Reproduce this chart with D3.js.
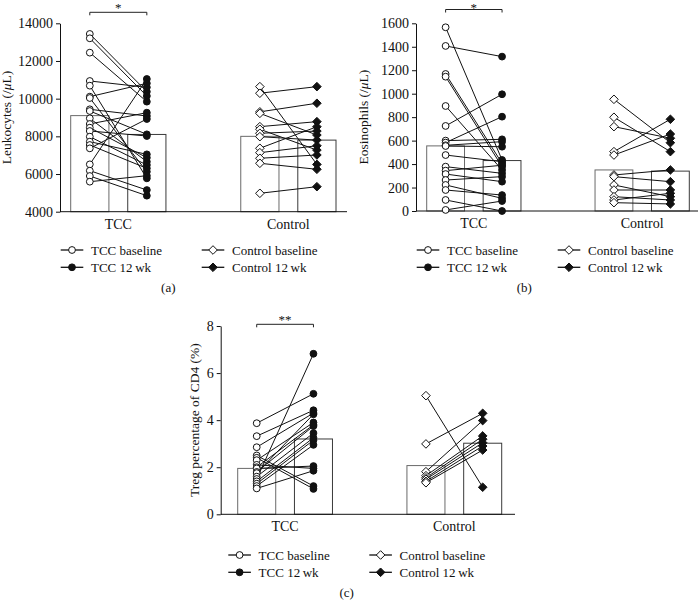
<!DOCTYPE html>
<html><head><meta charset="utf-8">
<script src="https://cdn.jsdelivr.net/npm/d3@7"></script>
<style>
body{margin:0;background:#fff}
svg{display:block}
text{font-family:"Liberation Serif","Times New Roman",serif;fill:#111}
</style>
</head><body>
<svg id="chart" width="699" height="615"></svg>
<script>
// ---------- DATA ----------
const groups = ["TCC", "Control"];
const timepoints = ["baseline", "12wk"];
const legendLabels = ["TCC baseline", "TCC 12\u2009wk", "Control baseline", "Control 12\u2009wk"];

// (a) Leukocytes (/µL)
const leukoTicks = [4000, 6000, 8000, 10000, 12000, 14000];
const leukoMeans = [[9100, 8100], [8000, 7800]];
const leukoTCCBase = [13434,13204,12442,10938,10690,10106,10035,9434,9345,8956,8655,8460,8283,7982,7717,7540,7363,6513,6177,5894,5593];
const leukoTCC12   = [10372,10142,9841,10602,5770,10814,6124,9080,8106,6655,9257,6867,8018,6478,7044,6301,8920,11044,5150,4850,5912];
const leukoCtrlBase = [10638,10288,9300,9220,8514,8376,8164,7983,7367,7133,6836,6570,4977];
const leukoCtrl12   = [6510,10638,9757,8070,8780,7270,8280,7800,8510,7500,7010,6250,5328];

// (b) Eosinophils (/µL)
const eosTicks = [0, 200, 400, 600, 800, 1000, 1200, 1400, 1600];
const eosMeans = [[555, 430], [350, 340]];
const eosTCCBase = [1566,1407,1168,1145,895,725,600,583,560,554,477,378,344,315,264,222,179,94,9];
const eosTCC12   = [435,1316,406,378,350,995,611,804,591,548,420,321,390,250,293,108,136,0,85];
const eosCtrlBase = [952,799,719,506,477,307,293,222,179,122,94,71];
const eosCtrl12   = [582,506,620,782,656,350,250,122,179,94,151,60];

// (c) Treg percentage of CD4 (%)
const tregTicks = [0, 2, 4, 6, 8];
const tregMeans = [[1.95, 3.2], [2.07, 3.02]];
const tregTCCBase = [3.87,3.32,2.85,2.5,2.4,2.3,2.1,2.0,1.95,1.8,1.75,1.6,1.5,1.4,1.3,1.2,1.1];
const tregTCC12   = [5.12,4.42,4.30,1.20,1.08,3.90,1.95,3.80,2.05,3.75,4.25,3.45,6.82,3.25,3.15,2.95,1.85];
const tregCtrlBase = [5.04,2.99,1.81,1.64,1.55,1.49,1.40,1.34];
const tregCtrl12   = [1.15,4.29,3.98,3.33,3.19,3.04,2.90,2.73];

// ---------- DRAW ----------
const svg = d3.select("#chart");
const FONT = '"Liberation Serif","Times New Roman",serif';

function diamondPath(r){ return `M0,${-r}L${r},0L0,${r}L${-r},0Z`; }

function marker(sel, shape, filled){
  if (shape === "circle") {
    sel.append("circle").attr("r", 3.4)
      .attr("fill", filled ? "#111" : "#fff").attr("stroke", "#111").attr("stroke-width", 1);
  } else {
    sel.append("path").attr("d", diamondPath(4.3))
      .attr("fill", filled ? "#111" : "#fff").attr("stroke", "#111").attr("stroke-width", 1);
  }
}

function drawPanel(p){
  const g = svg.append("g");
  const y = d3.scaleLinear().domain(p.domain).range([p.yBottom, p.yTop]);
  const gx = d3.scaleBand().domain(groups).range(p.span).paddingInner(0.44).paddingOuter(0);
  const ix = d3.scaleBand().domain(timepoints).range([0, gx.bandwidth()]).paddingInner(0.33).paddingOuter(0);
  const cx = (grp, t) => gx(grp) + ix(t) + ix.bandwidth() / 2;

  // bars
  const barData = [];
  groups.forEach((grp, gi) => timepoints.forEach((t, ti) => barData.push({grp, t, v: p.means[gi][ti]})));
  g.selectAll("rect.bar").data(barData).join("rect").attr("class", "bar")
    .attr("x", d => gx(d.grp) + ix(d.t))
    .attr("y", d => y(d.v))
    .attr("width", ix.bandwidth())
    .attr("height", d => y(p.domain[0]) - y(d.v))
    .attr("fill", "#fff")
    .attr("stroke", d => d.t === "baseline" ? "#6a6a6a" : "#3a3a3a")
    .attr("stroke-width", 1);

  // axes
  const yAxis = d3.axisLeft(y).tickValues(p.ticks).tickFormat(d3.format("d"))
    .tickSize(4).tickSizeOuter(0).tickPadding(3);
  const ag = g.append("g").attr("transform", `translate(${p.axisX[0]},0)`).call(yAxis);
  ag.attr("font-family", FONT).attr("font-size", 14);
  ag.selectAll("path,line").attr("stroke", "#111");
  ag.selectAll("text").attr("fill", "#111");
  g.append("line").attr("x1", p.axisX[0]).attr("x2", p.axisX[1])
    .attr("y1", y(p.domain[0])).attr("y2", y(p.domain[0])).attr("stroke", "#111");

  // x category labels
  g.selectAll("text.cat").data(groups).join("text").attr("class", "cat")
    .attr("x", d => gx(d) + gx.bandwidth() / 2).attr("y", y(p.domain[0]) + 17)
    .attr("text-anchor", "middle").attr("font-size", 14).text(d => d);

  // y label
  const yl = g.append("text").attr("transform", `translate(${p.ylabelX},${(p.yBottom + p.yTop) / 2}) rotate(-90)`)
    .attr("text-anchor", "middle").attr("font-size", 13.5);
  p.ylabel.forEach(part => {
    const ts = yl.append("tspan").text(part.t);
    if (part.i) ts.attr("font-style", "italic");
  });

  // paired lines + points
  const sets = [
    {grp: "TCC", base: p.tccBase, wk: p.tcc12, shape: "circle"},
    {grp: "Control", base: p.ctrlBase, wk: p.ctrl12, shape: "diamond"}
  ];
  sets.forEach(s => {
    const pairs = s.base.map((b, i) => ({b, w: s.wk[i]}));
    g.append("g").selectAll("line").data(pairs).join("line")
      .attr("x1", cx(s.grp, "baseline")).attr("x2", cx(s.grp, "12wk"))
      .attr("y1", d => y(d.b)).attr("y2", d => y(d.w))
      .attr("stroke", "#111").attr("stroke-width", 1);
  });
  sets.forEach(s => {
    [["baseline", s.base, false], ["12wk", s.wk, true]].forEach(([t, arr, filled]) => {
      g.append("g").selectAll("g").data(arr).join("g")
        .attr("transform", d => `translate(${cx(s.grp, t)},${y(d)})`)
        .each(function(){ marker(d3.select(this), s.shape, filled); });
    });
  });

  // significance bracket
  const bx1 = cx("TCC", "baseline"), bx2 = cx("TCC", "12wk");
  g.append("path").attr("d", `M${bx1},${p.bracketY + 3}V${p.bracketY}H${bx2}V${p.bracketY + 3}`)
    .attr("fill", "none").attr("stroke", "#222").attr("stroke-width", 1);
  g.append("text").attr("x", (bx1 + bx2) / 2).attr("y", p.starY).attr("text-anchor", "middle")
    .attr("font-size", 13).attr("fill", "#333").text(p.stars);

  // legend
  const entries = [
    {label: legendLabels[0], shape: "circle", filled: false, col: 0, row: 0},
    {label: legendLabels[1], shape: "circle", filled: true, col: 0, row: 1},
    {label: legendLabels[2], shape: "diamond", filled: false, col: 1, row: 0},
    {label: legendLabels[3], shape: "diamond", filled: true, col: 1, row: 1}
  ];
  entries.forEach(e => {
    const ex = p.legendX + e.col * 141, ey = p.legendY + e.row * 17.3;
    const lg = g.append("g").attr("transform", `translate(${ex},${ey})`);
    lg.append("line").attr("x1", 0).attr("x2", 22.6).attr("y1", 0).attr("y2", 0)
      .attr("stroke", "#111").attr("stroke-width", 1.3);
    marker(lg.append("g").attr("transform", "translate(11.3,0)"), e.shape, e.filled);
    lg.append("text").attr("x", 30.3).attr("y", 0).attr("dy", "0.35em").attr("font-size", 13).text(e.label);
  });

  g.append("text").attr("x", p.tagX).attr("y", p.tagY).attr("dy", "0.35em")
    .attr("text-anchor", "middle").attr("font-size", 13).text(p.tag);
}

drawPanel({
  domain: [4000, 14000], ticks: leukoTicks, means: leukoMeans,
  tccBase: leukoTCCBase, tcc12: leukoTCC12, ctrlBase: leukoCtrlBase, ctrl12: leukoCtrl12,
  yBottom: 211.7, yTop: 23.3, span: [70.7, 336], axisX: [60, 347],
  ylabel: [{t: "Leukocytes (/"}, {t: "\u03bc", i: true}, {t: "L)"}], ylabelX: 11,
  bracketY: 12.3, starY: 11.5, stars: "*",
  legendX: 60.7, legendY: 250, tag: "(a)", tagX: 168.3, tagY: 287
});
drawPanel({
  domain: [0, 1600], ticks: eosTicks, means: eosMeans,
  tccBase: eosTCCBase, tcc12: eosTCC12, ctrlBase: eosCtrlBase, ctrl12: eosCtrl12,
  yBottom: 211, yTop: 23.3, span: [426.7, 689.3], axisX: [416, 698],
  ylabel: [{t: "Eosinophils (/"}, {t: "\u03bc", i: true}, {t: "L)"}], ylabelX: 368,
  bracketY: 9.5, starY: 11.8, stars: "*",
  legendX: 416.7, legendY: 250, tag: "(b)", tagX: 524.3, tagY: 287
});
drawPanel({
  domain: [0, 8], ticks: tregTicks, means: tregMeans,
  tccBase: tregTCCBase, tcc12: tregTCC12, ctrlBase: tregCtrlBase, ctrl12: tregCtrl12,
  yBottom: 514.3, yTop: 326, span: [237.7, 501.7], axisX: [220.7, 515],
  ylabel: [{t: "Treg percentage of CD4 (%)"}], ylabelX: 199,
  bracketY: 324.3, starY: 324, stars: "**",
  legendX: 228.3, legendY: 555, tag: "(c)", tagX: 346.7, tagY: 592
});
</script>
</body></html>
